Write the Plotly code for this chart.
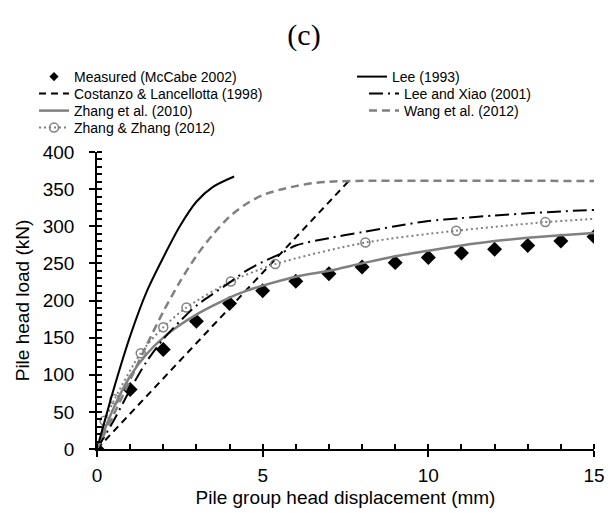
import plotly.graph_objects as go

# ---------------- data ----------------
meas_x = list(range(16))
meas_y = [0, 80, 134, 172, 196, 213, 226, 236, 245, 251, 258, 264, 269, 274, 280, 286]

lee_x = [0, 0.5, 1, 1.5, 2, 2.5, 3, 3.5, 4.14]
lee_y = [0, 80, 152, 212, 258, 300, 333, 353, 367]

cost_x = [0, 7.6]
cost_y = [0, 361]

lx_x = [0, 0.5, 1, 1.5, 2, 2.5, 3, 3.5, 4, 4.5, 5, 5.5, 6, 7, 8, 9, 10, 11, 12, 13, 14, 15]
lx_y = [0, 38, 80, 118, 148, 172, 193, 209, 224, 240, 252, 262, 274, 284, 292, 300, 307, 311, 314.5, 317.5, 320, 322]

z10_x = [0, 0.5, 1, 1.5, 2, 2.5, 3, 3.5, 4, 4.5, 5, 6, 7, 8, 9, 10, 11, 12, 13, 14, 15]
z10_y = [0, 55, 98, 128, 150, 167, 181, 193, 204, 213, 220, 232, 240, 250, 259.5, 267, 274, 280, 284.5, 288, 291]

wang_x = [0, 0.5, 1, 1.5, 2, 2.5, 3, 3.5, 4, 4.5, 5, 5.5, 6, 6.5, 7, 7.7, 15]
wang_y = [0, 46, 93, 140, 185, 225, 260, 289, 313, 330, 342, 349, 354, 358, 360, 361, 361]

zz_x = [0.23, 0.53, 1.32, 2.0, 2.7, 4.04, 5.38, 8.1, 10.84, 13.53]
zz_y = [38, 67, 129, 164, 190.5, 225.5, 249, 278, 294, 305.6]
zz_start_x = [0, 0.23]
zz_start_y = [0, 38]
zz_end_x = [13.53, 15]
zz_end_y = [305.6, 310]

x_ticks = [0, 5, 10, 15]
y_ticks = [0, 50, 100, 150, 200, 250, 300, 350, 400]

GRAY = "#808080"
FONT = "Liberation Sans, Arial, sans-serif"

# plot area in pixels (used to place the legend rows)
M_L, M_R, M_T, M_B = 97, 14, 152, 64
PW, PH = 608 - M_L - M_R, 513 - M_T - M_B


def px_x(px):
    return (px - M_L) / PW


def px_y(py):
    return 1 + (M_T - py) / PH


fig = go.Figure()

# left legend column
fig.add_trace(go.Scatter(x=[None], y=[None], mode="markers", name="Measured (McCabe 2002)",
                         marker=dict(symbol="diamond", size=7, color="black"), legend="legend"))
fig.add_trace(go.Scatter(x=meas_x, y=meas_y, mode="markers", name="Measured (McCabe 2002)",
                         marker=dict(symbol="diamond", size=11.5, color="black"), showlegend=False))
fig.add_trace(go.Scatter(x=cost_x, y=cost_y, mode="lines", name="Costanzo & Lancellotta (1998)",
                         line=dict(color="black", width=2, dash="7px,5px"), legend="legend2"))
fig.add_trace(go.Scatter(x=z10_x, y=z10_y, mode="lines", name="Zhang et al. (2010)",
                         line=dict(color=GRAY, width=2.5, shape="spline", smoothing=0.8), legend="legend3"))
fig.add_trace(go.Scatter(x=zz_start_x, y=zz_start_y, mode="lines", showlegend=False,
                         line=dict(color=GRAY, width=2, dash="2px,3px")))
fig.add_trace(go.Scatter(x=zz_end_x, y=zz_end_y, mode="lines", showlegend=False,
                         line=dict(color=GRAY, width=2, dash="2px,3px")))
fig.add_trace(go.Scatter(x=zz_x, y=zz_y, mode="lines+markers", name="Zhang & Zhang (2012)",
                         line=dict(color=GRAY, width=2, dash="2px,3px", shape="spline", smoothing=0.8),
                         marker=dict(symbol="circle-open", size=9, color=GRAY, line=dict(width=1.5, color=GRAY)),
                         legend="legend4"))

# right legend column
fig.add_trace(go.Scatter(x=lee_x, y=lee_y, mode="lines", name="Lee (1993)",
                         line=dict(color="black", width=2, shape="spline", smoothing=0.8), legend="legend5"))
fig.add_trace(go.Scatter(x=lx_x, y=lx_y, mode="lines", name="Lee and Xiao (2001)",
                         line=dict(color="black", width=2, dash="14px,5px,2px,5px", shape="spline", smoothing=0.8),
                         legend="legend6"))
fig.add_trace(go.Scatter(x=wang_x, y=wang_y, mode="lines", name="Wang et al. (2012)",
                         line=dict(color=GRAY, width=2.5, dash="8px,5px", shape="spline", smoothing=0.8),
                         legend="legend7"))

axis_common = dict(showgrid=False, zeroline=False, linecolor="black", linewidth=1.5,
                   tickcolor="black", tickwidth=1.5, ticks="outside", ticklen=6, automargin=False,
                   tickfont=dict(family=FONT, size=19, color="black"))


def leg(x_px, y_px):
    return dict(x=px_x(x_px), y=px_y(y_px), xanchor="left", yanchor="middle",
                orientation="v", bgcolor="rgba(0,0,0,0)", borderwidth=0,
                font=dict(family=FONT, size=14, color="black"))


LX = 34
ROWS = [77, 94, 111, 128]

fig.update_layout(
    width=608, height=513,
    margin=dict(l=M_L, r=M_R, t=M_T, b=M_B),
    plot_bgcolor="white", paper_bgcolor="white",
    title=dict(text="(c)", x=0.5, xref="container", xanchor="center",
               y=1 - 34 / 513, yref="container", yanchor="middle",
               font=dict(family="Liberation Serif, Times New Roman, serif", size=30, color="black")),
    xaxis=dict(range=[0, 15], tickvals=x_ticks, ticklabelstandoff=2,
               minor=dict(dtick=1, ticks="inside", ticklen=5, tickwidth=1.5, tickcolor="black"),
               title=dict(text="Pile group head displacement (mm)", standoff=6,
                          font=dict(family=FONT, size=19, color="black")),
               **axis_common),
    yaxis=dict(range=[0, 400], tickvals=y_ticks, ticklabelstandoff=11,
               minor=dict(dtick=10, ticks="inside", ticklen=5, tickwidth=1.5, tickcolor="black"),
               title=dict(text="Pile head load (kN)", standoff=8,
                          font=dict(family=FONT, size=19, color="black")),
               **axis_common),
    xaxis2=dict(range=[0, 15], overlaying="x", anchor="y", tickvals=x_ticks, ticks="inside",
                ticklen=5, tickwidth=1.5, tickcolor="black", showticklabels=False,
                showline=False, showgrid=False, zeroline=False, side="bottom"),
    yaxis2=dict(range=[0, 400], overlaying="y", anchor="x", tickvals=y_ticks, ticks="inside",
                ticklen=5, tickwidth=1.5, tickcolor="black", showticklabels=False,
                showline=False, showgrid=False, zeroline=False, side="left"),
    legend=leg(LX, ROWS[0]),
    legend2=leg(LX, ROWS[1]),
    legend3=leg(LX, ROWS[2]),
    legend4=leg(LX, ROWS[3]),
    legend5=leg(352, ROWS[0]),
    legend6=leg(364, ROWS[1]),
    legend7=leg(364, ROWS[2]),
    showlegend=True,
)

fig.write_html("out.html")
